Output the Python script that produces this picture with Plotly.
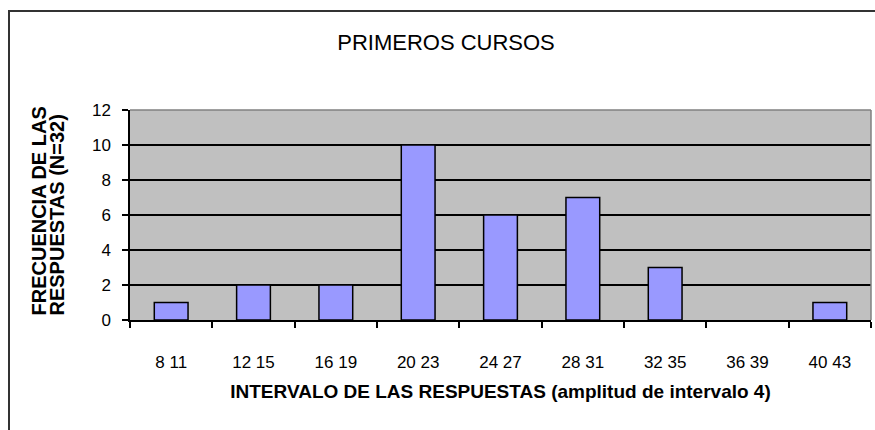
import plotly.graph_objects as go

categories = ["8 11", "12 15", "16 19", "20 23", "24 27", "28 31", "32 35", "36 39", "40 43"]
frequencies = [1, 2, 2, 10, 6, 7, 3, 0, 1]
y_ticks = [0, 2, 4, 6, 8, 10, 12]

title_text = "PRIMEROS CURSOS"
x_title = "INTERVALO DE LAS RESPUESTAS (amplitud de intervalo 4)"
y_title_1 = "FRECUENCIA DE LAS"
y_title_2 = "RESPUESTAS (N=32)"

FONT = "Liberation Sans, Arial, sans-serif"

fig = go.Figure(go.Bar(
    x=categories, y=frequencies,
    marker=dict(color="#9999FF",
                line=dict(color="black", width=[1.5 if v > 0 else 0 for v in frequencies])),
    width=0.41,
))

L, R, T, B = 130, 4, 110, 110
W, H = 875, 430
pw, ph = W - L - R, H - T - B

def px(xpix):
    return (xpix - L) / pw

def py(ypix):
    return (H - B - ypix) / ph

fig.update_layout(
    width=W, height=H,
    margin=dict(l=L, r=R, t=T, b=B, pad=0),
    paper_bgcolor="white",
    plot_bgcolor="#C0C0C0",
    showlegend=False,
    font=dict(family=FONT, color="black"),
    title=dict(text=title_text, x=px(446), xanchor="center", xref="paper",
               y=1 - 42 / H, yanchor="middle", font=dict(size=22, family=FONT)),
    xaxis=dict(
        type="category", showgrid=False, showline=True, linecolor="black", linewidth=1.5,
        ticks="outside", tickson="boundaries", ticklen=6, tickcolor="black", tickwidth=1.5,
        tickfont=dict(size=17, family=FONT), ticklabelstandoff=26,
        title=dict(text="<b>" + x_title + "</b>", font=dict(size=19, family=FONT), standoff=14),
        range=[-0.5, 8.5],
    ),
    yaxis=dict(
        range=[0, 12], tickvals=y_ticks, showgrid=True, gridcolor="black", gridwidth=1.5,
        showline=True, linecolor="black", linewidth=1.5, zeroline=False,
        ticks="outside", ticklen=6, tickcolor="black", tickwidth=1.5,
        tickfont=dict(size=17, family=FONT), ticklabelstandoff=8,
    ),
    shapes=[
        dict(type="line", xref="paper", yref="paper", x0=0, x1=1, y0=1, y1=1,
             line=dict(color="#808080", width=1.5)),
        dict(type="line", xref="paper", yref="paper", x0=1, x1=1, y0=0, y1=1,
             line=dict(color="#808080", width=1.5)),
        dict(type="path", xref="paper", yref="paper",
             path=f"M {px(9)} {py(440)} L {px(9)} {py(11)} L {px(880)} {py(11)}",
             line=dict(color="#333333", width=2)),
    ],
    annotations=[
        dict(text="<b>" + y_title_1 + "</b>", textangle=-90, xref="paper", yref="paper",
             x=px(38), y=py(318), xanchor="center", yanchor="bottom", showarrow=False,
             font=dict(size=20, family=FONT)),
        dict(text="<b>" + y_title_2 + "</b>", textangle=-90, xref="paper", yref="paper",
             x=px(56), y=py(318), xanchor="center", yanchor="bottom", showarrow=False,
             font=dict(size=20, family=FONT)),
    ],
)

fig.write_html(
    "out.html",
    config={"displayModeBar": False},
    post_script=(
        "document.documentElement.style.overflow='hidden';"
        "document.body.style.overflow='hidden';"
        "document.body.style.margin='0';document.body.style.padding='0';"
    ),
)
